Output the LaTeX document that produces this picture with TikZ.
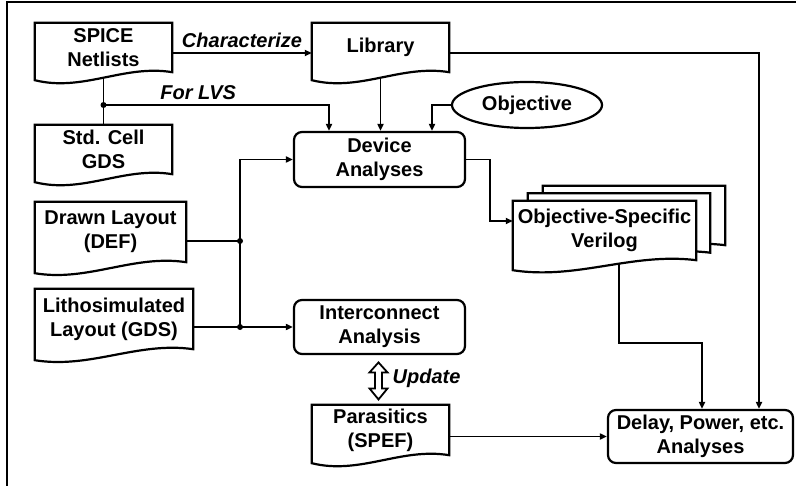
\documentclass[tikz,border=0pt]{standalone}
\usepackage{fontspec}
\setmainfont{Liberation Sans}
\usetikzlibrary{arrows.meta,calc,shapes.geometric}
\pgfdeclarelayer{conns}
\pgfdeclarelayer{shapes}
\pgfsetlayers{conns,shapes,main}

\tikzset{
  txt/.style={font=\fontsize{20bp}{24bp}\selectfont\bfseries, align=center},
  docbox/.style={txt, minimum height=49bp, inner sep=0pt},
  rbox/.style={txt, draw, line width=2.2bp, rounded corners=8bp, fill=white, inner sep=0pt},
  conn/.style={line width=1.8bp, -{Triangle[length=7bp,width=6bp]}},
  wire/.style={line width=1.8bp},
  outline/.style={line width=2.2bp, fill=white, line join=miter},
  lbl/.style={font=\fontsize{20bp}{24bp}\selectfont\bfseries\itshape, inner sep=1bp},
  frameline/.style={line width=2.5bp},
}

% document symbol: flat top, wavy bottom whose left corner hangs #2 lower
\newcommand\docpath[2]{%
  \draw[outline] (#1.north west) -- (#1.north east) -- (#1.south east)
    .. controls ($(#1.south west)!0.65!(#1.south east)+(0,-8)$)
       and ($(#1.south west)!0.35!(#1.south east)+(0,20)$)
    .. ($(#1.south west)+(0,#2)$) -- cycle;}

\begin{document}
\begin{tikzpicture}[x=1bp,y=-1bp]
\useasboundingbox (0,0) rectangle (796,486);

% frame
\draw[frameline] (7,486) -- (7,2) -- (796,2);

% document-shaped blocks (text only; outlines drawn below)
\node[docbox, minimum width=137bp] (spice) at (103.5,47.5) {SPICE\\Netlists};
\node[docbox, minimum width=137bp] (library) at (380.5,47.5) {Library};
\node[docbox, minimum width=137bp] (stdcell) at (103.5,149.5) {Std. Cell\\GDS};
\node[docbox, minimum width=151bp, minimum height=60bp] (drawn) at (110.5,232) {Drawn Layout\\(DEF)};
\node[docbox, minimum width=158bp, minimum height=60bp] (litho) at (114,319) {Lithosimulated\\Layout (GDS)};
\node[docbox, minimum width=182bp, minimum height=59bp] (verilogC) at (634,215.5) {};
\node[docbox, minimum width=182bp, minimum height=59bp] (verilogB) at (619,223) {};
\node[docbox, minimum width=183bp, minimum height=59bp] (verilog) at (604.5,230.5) {Objective-Specific\\Verilog};
\node[docbox, minimum width=137bp, minimum height=50bp] (parasitics) at (380.5,430) {Parasitics\\(SPEF)};

\begin{pgfonlayer}{shapes}
  \docpath{spice}{8}
  \docpath{library}{8}
  \docpath{stdcell}{8}
  \docpath{drawn}{11}
  \docpath{litho}{11}
  \docpath{verilogC}{10}
  \docpath{verilogB}{10}
  \docpath{verilog}{10}
  \docpath{parasitics}{8}
\end{pgfonlayer}

% process blocks
\node[rbox, minimum width=171bp, minimum height=55bp] (device) at (379.5,159.5) {Device\\Analyses};
\node[rbox, minimum width=171bp, minimum height=54bp] (inter) at (379.5,327) {Interconnect\\Analysis};
\node[rbox, minimum width=185bp, minimum height=53bp] (delay) at (700.5,436.5) {Delay, Power, etc.\\Analyses};
\node[txt, ellipse, draw, line width=2.2bp, fill=white, minimum width=150bp, minimum height=46bp, inner sep=0pt] (objective) at (527,105) {Objective};

% junctions
\coordinate (lvs) at (103.5,105);
\coordinate (j1) at (240,241);
\coordinate (j2) at (240,327);

\begin{pgfonlayer}{conns}
  \draw[conn] ($(spice.east)+(0,5.5)$) -- ($(library.west)+(0,5.5)$)
    node[lbl, midway, above=3bp] {Characterize};
  \draw[conn] ($(library.east)+(0,5.5)$) -| ($(delay.north)+(58.5,0)$);
  \draw[conn] (library.center) -- (library.center |- device.north);
  \draw[wire] (spice.center) -- (stdcell.center);
  \draw[conn] (lvs) -| ($(device.north)+(-50.5,0)$)
    node[lbl, pos=0.21, above=3bp] {For LVS};
  \draw[conn] (objective.west) -| ($(device.north)+(52.5,0)$);
  \draw[conn] (device.east) -- ++(24,0) |- ($(verilog.west)+(0,-9.5)$);
  \draw[conn] ($(verilog.south)+(14.5,0)$) -- ++(0,83) -| ($(delay.north)+(1.5,0)$);
  \draw[wire] (drawn.center |- j1) -- (j1);
  \draw[wire] (litho.center |- j2) -- (j2);
  \draw[conn] (j2) -- (inter.west);
  \draw[conn] (j2) |- (device.west);
  \draw[conn] (parasitics.center |- delay.west) -- (delay.west);
  \fill (lvs) circle (3bp);
  \fill (j1) circle (3bp);
  \fill (j2) circle (3bp);
\end{pgfonlayer}

% hollow two-way arrow between interconnect analysis and parasitics
\coordinate (upd) at ($(inter.south)!0.5!(parasitics.north)+(-1.5,1)$);
\begin{scope}[shift={(upd)}]
  \draw[line width=1.8bp, fill=white, line join=miter]
    (0,-18.5) -- (9,-8.5) -- (3.5,-8.5) -- (3.5,7.5) -- (9,7.5) -- (0,18.5)
    -- (-9,7.5) -- (-3.5,7.5) -- (-3.5,-8.5) -- (-9,-8.5) -- cycle;
\end{scope}
\node[lbl, anchor=west] (updlbl) at ($(upd)+(13,-3)$) {Update};

\end{tikzpicture}
\end{document}
